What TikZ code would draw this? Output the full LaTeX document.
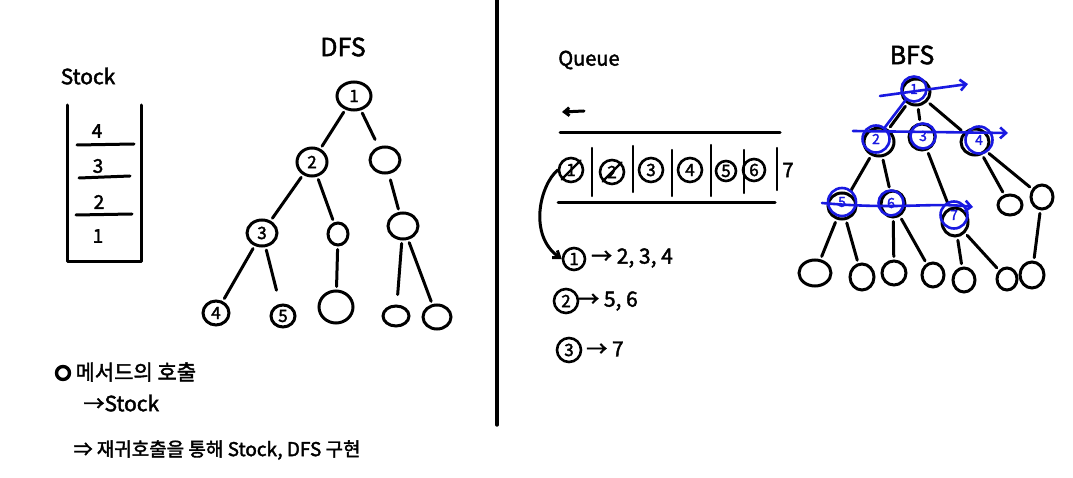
\documentclass[tikz,border=0pt]{standalone}
\usepackage{fontspec}
\setmainfont{Noto Sans CJK KR}[BoldFont={Noto Sans CJK KR}, BoldFeatures={FakeBold=2}]
\usetikzlibrary{arrows.meta,shapes.geometric}
\definecolor{pen}{RGB}{25,25,225}
\tikzset{
  ink/.style={line width=3pt, line cap=round, line join=round},
  bink/.style={line width=2.6pt, line cap=round, line join=round, draw=pen},
  edge/.style={ink, shorten <=3pt, shorten >=3pt},
  vtx/.style={draw, ellipse, line width=3pt, inner sep=0pt, minimum width=26pt, minimum height=24pt, font=\bfseries\fontsize{17}{17}\selectfont},
  smallvtx/.style={vtx, minimum width=22pt, minimum height=20pt},
  bvtx/.style={draw=pen, circle, line width=2.6pt, inner sep=0pt, minimum size=25pt, text=pen, font=\bfseries\fontsize{14}{14}\selectfont},
  qcell/.style={draw, circle, line width=2.6pt, inner sep=0pt, minimum size=24pt, font=\bfseries\fontsize{17}{17}\selectfont},
  title/.style={font=\bfseries\fontsize{25}{27}\selectfont},
  hand/.style={font=\bfseries\fontsize{21}{23}\selectfont},
  stk/.style={font=\bfseries\fontsize{19}{19}\selectfont},
}
\begin{document}
\begin{tikzpicture}[x=1pt,y=-1pt]
\useasboundingbox (0,0) rectangle (1073,478);
\fill[white] (0,0) rectangle (1073,478);

% divider
\coordinate (dtop) at (497,0);
\coordinate (dbot) at (497,425);
\draw[ink, line width=3.4pt] (dtop) -- (dbot);

% ---------- Stack ----------
\node[title, font=\bfseries\fontsize{21}{23}\selectfont] (stitle) at (88,76) {Stock};
\coordinate (sTL) at (67,105);
\coordinate (sBL) at (67,262);
\coordinate (sBR) at (141,262);
\coordinate (sTR) at (141,105);
\draw[ink] (sTL) -- (sBL) -- (sBR) -- (sTR);
\draw[ink] (77,145) -- (134,144);
\draw[ink] (79,178) -- (130,176);
\draw[ink] (76,215) -- (132,214);
\node[stk] (s4) at (97,131) {4};
\node[stk] (s3) at (98,166) {3};
\node[stk] (s2) at (99,202) {2};
\node[stk] (s1) at (98,236) {1};

% ---------- DFS tree ----------
\node[title] (dfs) at (343,47) {DFS};
\node[vtx, minimum width=34pt, minimum height=28pt] (d1) at (354,96) {1};
\node[vtx, minimum width=30pt, minimum height=28pt] (d2) at (312,162) {2};
\node[vtx, minimum width=30pt, minimum height=26pt] (dR) at (385,160) {};
\node[vtx, minimum width=30pt, minimum height=26pt] (d3) at (262,233) {3};
\node[smallvtx, minimum width=20pt, minimum height=22pt] (dE1) at (338,234) {};
\node[vtx, minimum width=30pt, minimum height=26pt] (dE2) at (403,226) {};
\node[vtx] (d4) at (216,313) {4};
\node[vtx, minimum width=24pt, minimum height=22pt] (d5) at (283,316) {5};
\node[vtx, minimum width=34pt, minimum height=32pt] (dE3) at (336,307) {};
\node[vtx, minimum width=26pt, minimum height=20pt] (dE4) at (396,316) {};
\node[vtx, minimum width=28pt, minimum height=24pt] (dE5) at (437,317) {};
\draw[edge] (d1) -- (d2);
\draw[edge, shorten >=8pt] (d1) -- (dR);
\draw[edge] (d2) -- (d3);
\draw[edge] (d2) -- (dE1);
\draw[edge, shorten <=6pt] (dR) -- (dE2);
\draw[edge] (d3) -- (d4);
\draw[edge, shorten >=14pt] (d3) -- (d5);
\draw[edge] (dE1) -- (dE3);
\draw[edge, shorten >=10pt] (dE2) -- (dE4);
\draw[edge] (dE2) -- (dE5);

% ---------- Queue ----------
\node[title, font=\bfseries\fontsize{20}{22}\selectfont] (qtitle) at (589,60) {Queue};
\coordinate (qaS) at (584,111);
\coordinate (qaE) at (562,112);
\draw[ink, -{Straight Barb[length=5pt,width=8pt]}] (qaS) -- (qaE);
\coordinate (qtL) at (560,133);
\coordinate (qtR) at (780,133);
\coordinate (qbL) at (558,203);
\coordinate (qbR) at (775,203);
\draw[ink] (qtL) -- (qtR);
\draw[ink] (qbL) -- (qbR);
\foreach \x/\a/\b in {592/148/196, 633/146/192, 672/150/196, 711/145/196, 744/150/193, 777/148/190}
  \draw[ink, line width=2.4pt] (\x,\a) -- (\x,\b);
\node[qcell] (q1) at (571,170) {1};
\node[qcell] (q2) at (612,172) {2};
\node[qcell] (q3) at (651,170) {3};
\node[qcell] (q4) at (690,170) {4};
\node[qcell, minimum size=20pt] (q5) at (726,171) {5};
\node[qcell, minimum size=22pt] (q6) at (754,170) {6};
\node[font=\bfseries\fontsize{20}{20}\selectfont] (q7) at (788,170) {7};
\draw[ink, line width=2.4pt] (q1.south west) -- (q1.north east);
\draw[ink, line width=2.4pt] (q2.south west) -- (q2.north east);

\node[qcell, minimum size=22pt] (l1) at (574,259) {1};
\node[hand] (l1t) at (632,258) {→ 2, 3, 4};
\node[qcell, minimum size=24pt] (l2) at (566,301) {2};
\node[hand] (l2t) at (608,301) {→ 5, 6};
\node[qcell, minimum size=24pt] (l3) at (569,350) {3};
\node[hand] (l3t) at (605,349) {→ 7};
\draw[ink, -{Straight Barb[length=6pt,width=9pt]}] (q1.west) .. controls (540,185) and (528,235) .. (l1.west);

% ---------- BFS tree ----------
\node[title] (bfs) at (912,55) {BFS};
\node[vtx, minimum width=28pt, minimum height=26pt] (b1) at (916,92) {};
\node[vtx, minimum width=30pt, minimum height=28pt] (b2) at (879,142) {};
\node[vtx, minimum width=26pt, minimum height=26pt] (b3) at (922,137) {};
\node[vtx, minimum width=28pt, minimum height=26pt] (b4) at (975,142) {};
\node[vtx, minimum width=28pt, minimum height=26pt] (b5) at (842,206) {};
\node[vtx, minimum width=24pt, minimum height=26pt] (b6) at (893,204) {};
\node[vtx, minimum width=26pt, minimum height=28pt] (b7) at (955,222) {};
\node[vtx, minimum width=24pt, minimum height=20pt] (b8) at (1010,205) {};
\node[vtx, minimum width=22pt, minimum height=24pt] (b9) at (1042,197) {};
\node[vtx, minimum width=32pt, minimum height=26pt] (c1) at (815,273) {};
\node[vtx, minimum width=24pt, minimum height=26pt] (c2) at (862,277) {};
\node[vtx, minimum width=24pt, minimum height=24pt] (c3) at (894,273) {};
\node[vtx, minimum width=22pt, minimum height=24pt] (c4) at (933,275) {};
\node[vtx, minimum width=22pt, minimum height=24pt] (c5) at (964,280) {};
\node[vtx, minimum width=20pt, minimum height=22pt] (c6) at (1007,279) {};
\node[vtx, minimum width=24pt, minimum height=26pt] (c7) at (1032,275) {};
\draw[edge] (b1) -- (b2);
\draw[edge] (b1) -- (b3);
\draw[edge] (b1) -- (b4);
\draw[edge] (b2) -- (b5);
\draw[edge] (b2) -- (b6);
\draw[edge] (b3) -- (b7);
\draw[edge] (b4) -- (b8);
\draw[edge] (b4) -- (b9);
\draw[edge] (b5) -- (c1);
\draw[edge] (b5) -- (c2);
\draw[edge] (b6) -- (c3);
\draw[edge] (b6) -- (c4);
\draw[edge] (b7) -- (c5);
\draw[edge] (b7) -- (c6);
\draw[edge] (b9) -- (c7);

% blue overlay
\node[bvtx] (v1) at (914,89) {1};
\node[bvtx, minimum size=27pt] (v2) at (876,139) {2};
\node[bvtx] (v3) at (923,136) {3};
\node[bvtx, minimum size=27pt] (v4) at (979,140) {4};
\node[bvtx, minimum size=28pt] (v5) at (842,202) {5};
\node[bvtx] (v6) at (891,203) {6};
\node[bvtx, minimum size=27pt] (v7) at (954,215) {7};
\draw[bink] (v1) -- (v2);
\coordinate (r1s) at (880,96);
\coordinate (r1e) at (968,84);
\coordinate (r2s) at (853,131);
\coordinate (r2e) at (1008,133);
\coordinate (r3s) at (822,203);
\coordinate (r3e) at (973,207);
\draw[bink, -{Straight Barb[length=6pt,width=11pt]}] (r1s) -- (r1e);
\draw[bink, -{Straight Barb[length=6pt,width=11pt]}] (r2s) -- (r2e);
\draw[bink, -{Straight Barb[length=6pt,width=11pt]}] (r3s) .. controls (900,210) and (930,202) .. (r3e);

% ---------- notes ----------
\node[draw, circle, line width=3.4pt, minimum size=13pt, inner sep=0pt] (sym) at (63,373) {};
\node[hand, anchor=west] (note1) at (72,372) {메서드의 호출};
\node[hand, anchor=west] (note2) at (80,403) {→Stock};
\node[hand, anchor=west, font=\bfseries\fontsize{19}{21}\selectfont] (note3) at (70,450) {⇒ 재귀호출을 통해 Stock, DFS 구현};
\end{tikzpicture}
\end{document}
